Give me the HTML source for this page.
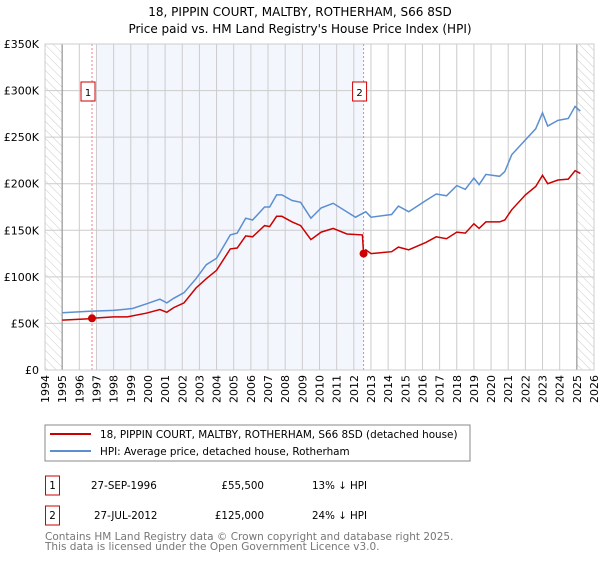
<!DOCTYPE html>
<html><head><meta charset="utf-8"><style>
body{margin:0;background:#fff;font-family:"DejaVu Sans","Liberation Sans",sans-serif}
svg text{font-family:"DejaVu Sans","Liberation Sans",sans-serif}
</style></head><body>
<svg id="c" width="600" height="560" viewBox="0 0 600 560">
<defs><pattern id="hatch" width="6" height="6" patternUnits="userSpaceOnUse" patternTransform="rotate(-45)"><line x1="0" y1="0" x2="0" y2="6" stroke="#ccc" stroke-width="1"/></pattern></defs>
<text x="300" y="16" text-anchor="middle" font-size="12">18, PIPPIN COURT, MALTBY, ROTHERHAM, S66 8SD</text>
<text x="300" y="33" text-anchor="middle" font-size="12">Price paid vs. HM Land Registry's House Price Index (HPI)</text>
<g id="plot"></g>
<rect x="45" y="425" width="425" height="36" fill="#fff" stroke="#888"/>
<line x1="50" y1="434" x2="91" y2="434" stroke="#cc0000" stroke-width="2"/>
<text x="100" y="438" font-size="10.4">18, PIPPIN COURT, MALTBY, ROTHERHAM, S66 8SD (detached house)</text>
<line x1="50" y1="451" x2="91" y2="451" stroke="#5b8fd1" stroke-width="2"/>
<text x="100" y="455" font-size="10.4">HPI: Average price, detached house, Rotherham</text>
<g font-size="10.3">
<rect x="45.5" y="476" width="14" height="19" fill="none" stroke="#cc0000"/>
<text x="52.5" y="489" text-anchor="middle">1</text>
<text x="91" y="489">27-SEP-1996</text>
<text x="264" y="489" text-anchor="end">£55,500</text>
<text x="312" y="489">13% ↓ HPI</text>
<rect x="45.5" y="506" width="14" height="19" fill="none" stroke="#cc0000"/>
<text x="52.5" y="519" text-anchor="middle">2</text>
<text x="94" y="519">27-JUL-2012</text>
<text x="264" y="519" text-anchor="end">£125,000</text>
<text x="312" y="519">24% ↓ HPI</text>
</g>
<text x="45" y="540" font-size="10.5" fill="#777">Contains HM Land Registry data © Crown copyright and database right 2025.</text>
<text x="45" y="550" font-size="10.5" fill="#777">This data is licensed under the Open Government Licence v3.0.</text>
</svg>
<script>
const hpiYears=[1995,1996.6,1998,1999.1,1999.9,2000.7,2001.1,2001.5,2002.1,2002.8,2003.4,2004,2004.8,2005.2,2005.7,2006.1,2006.8,2007.1,2007.5,2007.8,2008.4,2008.9,2009.5,2010.1,2010.8,2012.1,2012.7,2013,2014.2,2014.6,2015.2,2016.2,2016.8,2017.4,2018,2018.5,2019,2019.3,2019.7,2020.5,2020.8,2021.2,2022,2022.6,2023,2023.3,2023.9,2024.5,2024.9,2025.2];
const hpiValues=[61.5,63,64,66,71,76,72,77,83,98,113,120,145,147,163,161,175,175,188,188,182,180,163,174,179,164,170,164,167,176,170,182,189,187,198,194,206,199,210,208,213,231,247,259,276,262,268,270,283,278];
const redYears=[1995,1996.6,1996.74,1998,1998.8,1999.9,2000.7,2001.1,2001.5,2002.1,2002.8,2003.4,2004,2004.8,2005.2,2005.7,2006.1,2006.8,2007.1,2007.5,2007.8,2008.4,2008.9,2009.5,2010.1,2010.8,2011.6,2012.5,2012.57,2012.7,2013,2014.2,2014.6,2015.2,2016.2,2016.8,2017.4,2018,2018.5,2019,2019.3,2019.7,2020.5,2020.8,2021.2,2022,2022.6,2023,2023.3,2023.9,2024.5,2024.9,2025.2];
const redValues=[53.6,55,55.5,57,57,61,65,62,67,72,88,98,107,130,131,144,143,155,154,165,165,159,155,140,148,152,146,145,125,129,125,127,132,129,137,143,141,148,147,157,152,159,159,161,172,188,197,209,200,204,205,214,211];
const sales=[{id:'1',year:1996.74,value:55.5},{id:'2',year:2012.57,value:125}];
const yTicks=[0,50,100,150,200,250,300,350];
const yTickLabels=['£0','£50K','£100K','£150K','£200K','£250K','£300K','£350K'];
const xTicks=[];for(let y=1994;y<=2026;y++)xTicks.push(y);
const X0=45,X1=594,Y0=370,Y1=44;
const xs=y=>X0+(y-1994)/(32)*(X1-X0);
const ys=v=>Y0-v/350*(Y0-Y1);
const NS='http://www.w3.org/2000/svg';
const g=document.getElementById('plot');
function mk(t,a){const e=document.createElementNS(NS,t);for(const k in a)e.setAttribute(k,a[k]);g.appendChild(e);return e;}
let e;
e=mk('rect',{x:xs(1997),y:Y1,width:xs(2012.57)-xs(1997),height:Y0-Y1,fill:'#f3f6fd'});


e=mk('rect',{x:X0,y:Y1,width:xs(1995)-X0,height:Y0-Y1,fill:'url(#hatch)'});


e=mk('rect',{x:xs(2025),y:Y1,width:X1-xs(2025),height:Y0-Y1,fill:'url(#hatch)'});


xTicks.forEach(y=>{const l=mk('line',{x1:xs(y),x2:xs(y),y1:Y1,y2:Y0,stroke:'#ccc','stroke-width':1});


const t=mk('text',{x:0,y:0,'font-size':11,'text-anchor':'end',transform:`translate(${xs(y)+4},375) rotate(-90)`});t.textContent=y;

});
yTicks.forEach((v,i)=>{const l=mk('line',{x1:X0,x2:X1,y1:ys(v),y2:ys(v),stroke:'#ccc','stroke-width':1});


const t=mk('text',{x:39,y:ys(v)+4,'font-size':11,'text-anchor':'end'});t.textContent=yTickLabels[i];

});
e=mk('line',{x1:xs(1995),x2:xs(1995),y1:Y1,y2:Y0,stroke:'#999','stroke-width':1.2});


e=mk('line',{x1:xs(2025),x2:xs(2025),y1:Y1,y2:Y0,stroke:'#999','stroke-width':1.2});


sales.forEach(s=>{const l=mk('line',{x1:xs(s.year),x2:xs(s.year),y1:Y1,y2:Y0,stroke:'#f08080','stroke-dasharray':'2,2'});

});
const path=(xa,va)=>xa.map((y,i)=>(i?'L':'M')+xs(y).toFixed(1)+','+ys(va[i]).toFixed(1)).join('');
e=mk('path',{d:path(hpiYears,hpiValues),fill:'none',stroke:'#5b8fd1','stroke-width':1.5});


e=mk('path',{d:path(redYears,redValues),fill:'none',stroke:'#cc0000','stroke-width':1.5});


sales.forEach(s=>{const c=mk('circle',{cx:xs(s.year),cy:ys(s.value),r:4,fill:'#cc0000'});


const r=mk('rect',{x:xs(s.year)-11,y:82,width:14,height:19,fill:'#fff',stroke:'#cc0000'});


const t=mk('text',{x:xs(s.year)-4,y:96,'font-size':10,'text-anchor':'middle'});t.textContent=s.id;

});
e=mk('rect',{x:X0,y:Y1,width:X1-X0,height:Y0-Y1,fill:'none',stroke:'#ccc'});


</script>
</body></html>
